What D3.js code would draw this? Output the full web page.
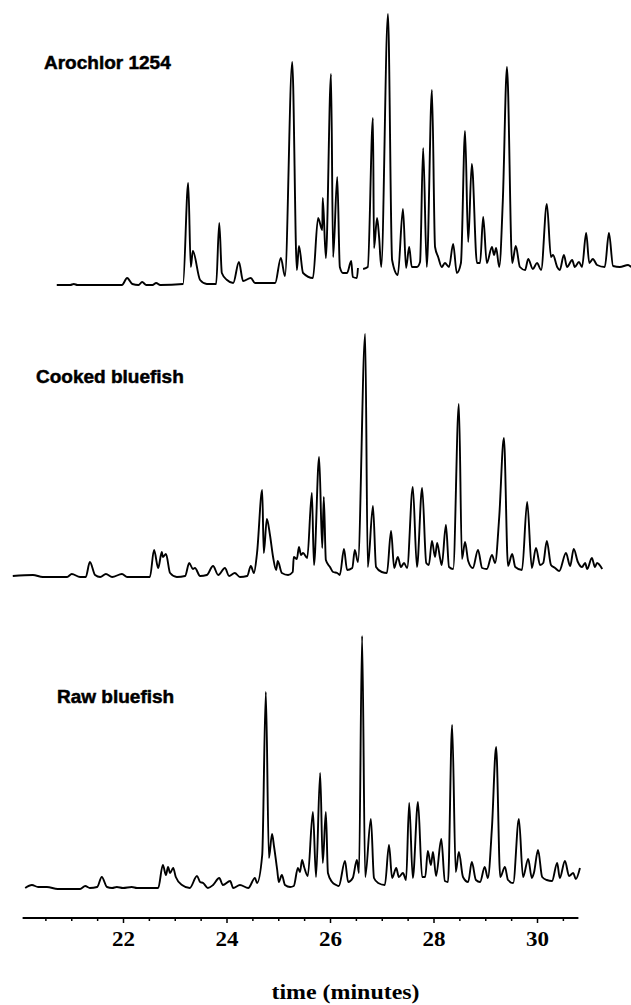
<!DOCTYPE html>
<html>
<head>
<meta charset="utf-8">
<script src="https://cdn.jsdelivr.net/npm/d3@7"></script>
<style>
  body { margin: 0; background: #fff; }
  svg { display: block; }
</style>
</head>
<body>
<script>
// Chromatogram traces: [time (min), response (arb. units)]
// null response = break in the trace
const arochlor = [
  [20.72, 0], [20.98, 0], [21.05, 1], [21.12, 0], [21.98, 0], [22.08, 7],
  [22.18, 1], [22.30, 0], [22.37, 3], [22.45, 0], [22.57, 0], [22.64, 2],
  [22.72, 0], [23.16, 1],
  [23.26, 102], [23.31, 18], [23.35, 34], [23.49, 5], [23.62, 1], [23.80, 1],
  [23.86, 62], [23.91, 12], [24.01, 5], [24.13, 2], [24.24, 23], [24.32, 4],
  [24.47, 7], [24.55, 2], [24.94, 2], [25.05, 27], [25.13, 9], [25.27, 223],
  [25.36, 15], [25.40, 39], [25.48, 12], [25.67, 7], [25.77, 67], [25.85, 55],
  [25.86, 87], [25.92, 27], [26.02, 211], [26.06, 28], [26.14, 108], [26.19, 18],
  [26.25, 12], [26.33, 12], [26.41, 24], [26.44, 8], [26.52, 7], [26.54, 17],
  [26.59, null],
  [26.64, 16], [26.73, 18], [26.83, 167], [26.85, 37], [26.91, 67], [26.95, 47],
  [26.99, 18], [27.12, 271], [27.20, 25], [27.31, 10], [27.41, 76], [27.47, 17],
  [27.53, 38], [27.58, 18], [27.68, 18], [27.74, 23], [27.80, 137], [27.87, 18],
  [27.97, 195], [28.03, 38], [28.09, 28], [28.16, 18], [28.22, 22], [28.30, 18],
  [28.38, 41], [28.45, 12], [28.53, 22], [28.61, 154], [28.67, 43], [28.74, 121],
  [28.84, 22], [28.90, 22], [28.96, 68], [29.03, 22], [29.13, 38], [29.17, 30],
  [29.21, 37], [29.27, 18], [29.34, 85], [29.42, 218], [29.52, 22], [29.59, 39],
  [29.67, 18], [29.77, 15], [29.83, 26], [29.92, 16], [30.00, 22], [30.08, 15],
  [30.19, 81], [30.27, 28], [30.31, 30], [30.39, 18], [30.44, 15], [30.52, 30],
  [30.58, 18], [30.68, 25], [30.73, 18], [30.81, 23], [30.87, 18], [30.95, 52],
  [31.01, 22], [31.08, 26], [31.16, 20], [31.31, 18], [31.39, 52], [31.47, 19],
  [31.60, 18], [31.76, 20], [31.82, 18]
];

const cooked = [
  [19.87, 1], [20.26, 2], [20.45, 0], [20.92, 0], [21.01, 3], [21.17, 0],
  [21.28, 0], [21.36, 15], [21.46, 2], [21.56, 0], [21.67, 3], [21.79, 0],
  [21.98, 3], [22.08, 0], [22.52, 0], [22.60, 27], [22.68, 9], [22.75, 25],
  [22.77, 20], [22.83, 23], [22.91, 4], [23.04, 0], [23.20, 1], [23.28, 14],
  [23.35, 8], [23.39, 9], [23.49, 1], [23.62, 2], [23.74, 11], [23.84, 2],
  [23.97, 9], [24.05, 1], [24.16, 4], [24.26, 0], [24.40, 1], [24.47, 11],
  [24.53, 4], [24.59, 24], [24.69, 87], [24.72, 24], [24.78, 58], [24.84, 42],
  [24.90, 20], [24.96, 7], [24.99, 16], [25.07, 4], [25.19, 2], [25.28, 5],
  [25.30, 20], [25.36, 18], [25.40, 30], [25.44, 22], [25.48, 24], [25.56, 19],
  [25.65, 84], [25.69, 12], [25.79, 120], [25.85, 29], [25.88, 80], [25.92, 17],
  [26.00, 10], [26.06, 5], [26.14, 4], [26.19, 2], [26.27, 28], [26.33, 7],
  [26.43, 9], [26.48, 27], [26.54, 15], [26.68, 243], [26.73, 10], [26.83, 71],
  [26.89, 10], [27.00, 5], [27.10, 4], [27.18, 46], [27.24, 9], [27.31, 20],
  [27.37, 10], [27.43, 14], [27.49, 9], [27.60, 90], [27.68, 10], [27.78, 89],
  [27.86, 14], [27.91, 12], [27.97, 36], [28.03, 20], [28.07, 34], [28.13, 18],
  [28.16, 12], [28.24, 52], [28.30, 10], [28.38, 8], [28.49, 173], [28.55, 18],
  [28.61, 35], [28.67, 16], [28.76, 9], [28.86, 27], [28.94, 9], [29.03, 8],
  [29.13, 22], [29.19, 14], [29.27, 60], [29.36, 139], [29.44, 11], [29.52, 23],
  [29.58, 10], [29.71, 7], [29.81, 75], [29.90, 9], [29.98, 29], [30.06, 12],
  [30.12, 14], [30.19, 36], [30.27, 12], [30.35, 9], [30.43, 6], [30.56, 24],
  [30.64, 11], [30.71, 28], [30.79, 15], [30.87, 10], [30.93, 14], [30.97, 8],
  [31.06, 19], [31.12, 10], [31.16, 14], [31.26, 8]
];

const raw = [
  [20.11, 1], [20.24, 4], [20.36, 2], [20.53, 2], [20.74, 0], [21.17, 0],
  [21.27, 3], [21.36, 1], [21.50, 2], [21.59, 12], [21.69, 2], [21.79, 1],
  [21.88, 2], [22.00, 1], [22.17, 2], [22.27, 1], [22.68, 1], [22.77, 24],
  [22.83, 14], [22.87, 22], [22.91, 16], [22.97, 21], [23.02, 12], [23.14, 4],
  [23.29, 1], [23.43, 13], [23.49, 7], [23.55, 6], [23.64, 1], [23.74, 4],
  [23.86, 11], [23.93, 4], [24.07, 8], [24.13, 1], [24.26, 4], [24.42, 1],
  [24.55, 11], [24.59, 6], [24.69, 34], [24.76, 197], [24.82, 31], [24.88, 55],
  [24.92, 42], [24.98, 19], [25.01, 7], [25.07, 14], [25.13, 4], [25.23, 2],
  [25.30, 3], [25.38, 21], [25.42, 17], [25.46, 29], [25.50, 22], [25.57, 13],
  [25.67, 77], [25.73, 12], [25.81, 116], [25.86, 26], [25.92, 77], [25.96, 16],
  [26.04, 7], [26.12, 4], [26.17, 3], [26.29, 28], [26.35, 7], [26.44, 11],
  [26.52, 29], [26.56, 16], [26.62, 253], [26.68, 12], [26.79, 70], [26.85, 11],
  [26.93, 6], [27.06, 4], [27.14, 44], [27.20, 11], [27.28, 21], [27.33, 12],
  [27.41, 16], [27.47, 9], [27.53, 86], [27.60, 11], [27.70, 87], [27.78, 12],
  [27.84, 12], [27.89, 38], [27.95, 24], [27.99, 37], [28.05, 13], [28.15, 50],
  [28.22, 8], [28.28, 7], [28.36, 164], [28.43, 17], [28.49, 37], [28.57, 12],
  [28.67, 7], [28.74, 27], [28.82, 9], [28.90, 7], [28.99, 22], [29.05, 11],
  [29.13, 62], [29.21, 142], [29.29, 12], [29.38, 22], [29.44, 9], [29.54, 6],
  [29.65, 70], [29.73, 12], [29.83, 30], [29.90, 11], [29.94, 16], [30.02, 39],
  [30.10, 12], [30.19, 9], [30.29, 8], [30.39, 26], [30.44, 11], [30.54, 28],
  [30.62, 13], [30.70, 16], [30.75, 10], [30.83, 21]
];

const panelNames = ["Arochlor 1254", "Cooked bluefish", "Raw bluefish"];
const panelSeries = [arochlor, cooked, raw];
const majorTicks = [22, 24, 26, 28, 30];
const minorTicks = [20.5, 21, 21.5, 22.5, 23, 23.5, 24.5, 25, 25.5, 26.5, 27, 27.5, 28.5, 29, 29.5, 30.5];
const axisTitle = "time (minutes)";

const width = 631;
const height = 1005;

const svg = d3.select("body").append("svg")
    .attr("width", width)
    .attr("height", height);

// time -> pixel, shared by all three traces and the axis
const x = d3.scaleLinear().domain([20, 32]).range([19.5, 640.5]);

// each panel has its own baseline; units are the same for all
const panels = [
  { base: 285, label: [44, 69] },
  { base: 577, label: [36, 383] },
  { base: 889, label: [57, 703] }
];

panels.forEach((p, i) => {
  const y = d3.scaleLinear().domain([0, 100]).range([p.base, p.base - 100]);

  const line = d3.line()
      .defined(d => d[1] !== null)
      .x(d => x(d[0]))
      .y(d => y(d[1]))
      .curve(d3.curveMonotoneX);

  svg.append("path")
      .datum(panelSeries[i])
      .attr("fill", "none")
      .attr("stroke", "#000")
      .attr("stroke-width", 1.9)
      .attr("stroke-linejoin", "round")
      .attr("d", line);

  // scanned labels look heavier than plain bold, so add a thin outline
  svg.append("text")
      .attr("x", p.label[0])
      .attr("y", p.label[1])
      .attr("font-family", "'Liberation Sans', Arial, sans-serif")
      .attr("font-weight", "bold")
      .attr("font-size", 19)
      .attr("fill", "#000")
      .attr("stroke", "#000")
      .attr("stroke-width", 0.5)
      .text(panelNames[i]);
});

// time axis
const axisY = 918;

svg.append("line")
    .attr("x1", x(20.06)).attr("x2", x(30.8))
    .attr("y1", axisY).attr("y2", axisY)
    .attr("stroke", "#000")
    .attr("stroke-width", 2);

const major = svg.append("g")
    .attr("transform", `translate(0,${axisY})`)
    .call(d3.axisBottom(x).tickValues(majorTicks).tickSize(5).tickPadding(9).tickFormat(d3.format("d")));

const minor = svg.append("g")
    .attr("transform", `translate(0,${axisY})`)
    .call(d3.axisBottom(x).tickValues(minorTicks).tickSize(3).tickFormat(""));

[major, minor].forEach(g => {
  g.select(".domain").remove();
  g.selectAll(".tick line").attr("stroke", "#000").attr("stroke-width", 1.5);
});

// axis lettering in the figure is a little wider than the font
major.selectAll(".tick text")
    .attr("fill", "#000")
    .attr("font-family", "'Liberation Serif', 'Times New Roman', serif")
    .attr("font-weight", "bold")
    .attr("font-size", 20)
    .attr("textLength", 23)
    .attr("lengthAdjust", "spacingAndGlyphs");

svg.append("text")
    .attr("x", x(26.3))
    .attr("y", 999)
    .attr("text-anchor", "middle")
    .attr("font-family", "'Liberation Serif', 'Times New Roman', serif")
    .attr("font-weight", "bold")
    .attr("font-size", 20)
    .attr("textLength", 148)
    .attr("lengthAdjust", "spacingAndGlyphs")
    .attr("fill", "#000")
    .text(axisTitle);
</script>
</body>
</html>
